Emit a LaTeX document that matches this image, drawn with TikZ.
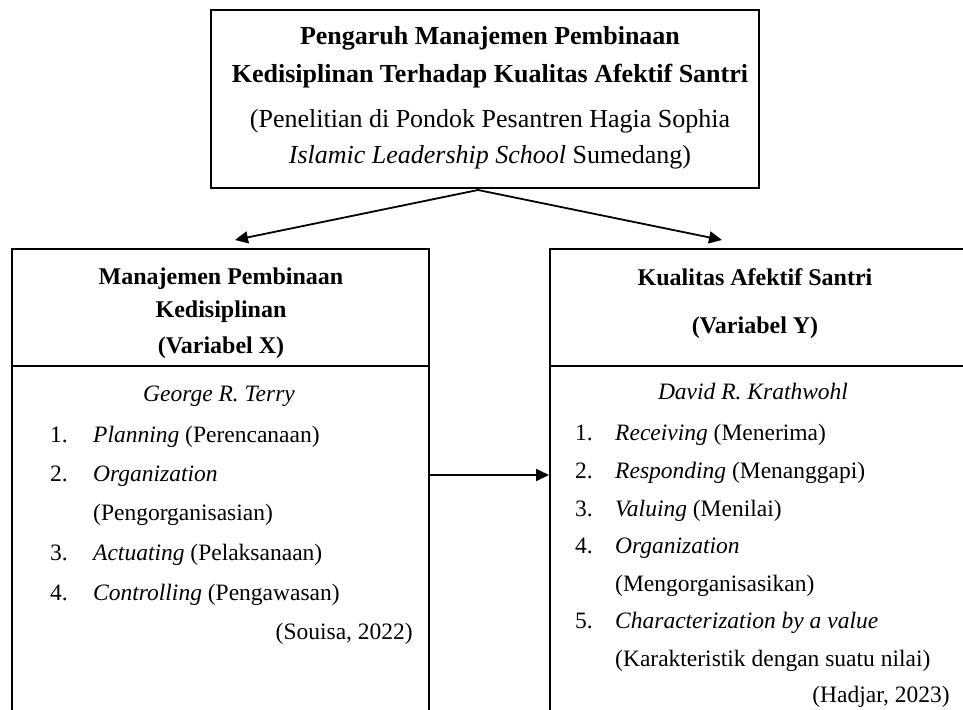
\documentclass[tikz,border=0pt]{standalone}
\usepackage{fontspec}
\setmainfont{Liberation Serif}
\usetikzlibrary{arrows.meta}
\begin{document}
\begin{tikzpicture}[x=1pt, y=-1pt,
  box/.style={draw, line width=2pt, inner sep=0pt},
  txt/.style={anchor=base, inner sep=0pt, font=\fontsize{23.5}{28}\selectfont},
  lst/.style={txt, anchor=base west},
  ttl/.style={txt, font=\fontsize{26}{30}\selectfont\bfseries},
  sub/.style={txt, font=\fontsize{26}{30}\selectfont},
  hd/.style={txt, font=\fontsize{24}{28}\selectfont\bfseries},
  arr/.style={line width=1.8pt, -{Triangle[length=13pt,width=12pt]}}]
\useasboundingbox (0,0) rectangle (963,709);
\clip (0,0) rectangle (963,709);
\node[box, line width=2.5pt, minimum width=548pt, minimum height=178pt] (T) at (485,99) {};
\node[box, anchor=north west, minimum width=417pt, minimum height=480pt] (X) at (11,248) {};
\node[box, anchor=north west, minimum width=417pt, minimum height=480pt] (Y) at (549,248) {};
\draw[line width=2pt] (X.west |- 0,366) -- (X.east |- 0,366);
\draw[line width=2pt] (Y.west |- 0,366) -- (Y.east |- 0,366);
\coordinate (T_s) at (478,190);
\coordinate (X_t) at (235,240);
\coordinate (Y_t) at (722,240);
\draw[arr] (T_s) -- (X_t);
\draw[arr] (T_s) -- (Y_t);
\draw[arr] (X.east |- 0,475) -- (Y.west |- 0,475);
\node[ttl] (T_1) at (490,45) {Pengaruh Manajemen Pembinaan};
\node[ttl] (T_2) at (490,82) {Kedisiplinan Terhadap Kualitas Afektif Santri};
\node[sub] (T_3) at (490,127) {(Penelitian di Pondok Pesantren Hagia Sophia};
\node[sub] (T_4) at (490,163) {\textit{Islamic Leadership School} Sumedang)};
\node[hd] (X_1) at (221,284) {Manajemen Pembinaan};
\node[hd] (X_2) at (221,317) {Kedisiplinan};
\node[hd] (X_3) at (221,353) {(Variabel X)};
\node[hd] (Y_1) at (755,285) {Kualitas Afektif Santri};
\node[hd] (Y_2) at (755,333) {(Variabel Y)};
\node[txt] (X_0) at (219,401) {\textit{George R. Terry}};
\node[lst] (X_n1) at (50,442) {1.};
\node[lst] (X_p1) at (93,442) {\textit{Planning} (Perencanaan)};
\node[lst] (X_n2) at (50,481) {2.};
\node[lst] (X_p2) at (93,481) {\textit{Organization}};
\node[lst] (X_q2) at (93,520) {(Pengorganisasian)};
\node[lst] (X_n3) at (50,560) {3.};
\node[lst] (X_p3) at (93,560) {\textit{Actuating} (Pelaksanaan)};
\node[lst] (X_n4) at (50,600) {4.};
\node[lst] (X_p4) at (93,600) {\textit{Controlling} (Pengawasan)};
\node[txt, anchor=base east] (X_r) at (413,639) {(Souisa, 2022)};
\node[txt] (Y_0) at (753,399) {\textit{David R. Krathwohl}};
\node[lst] (Y_n1) at (575,440) {1.};
\node[lst] (Y_p1) at (615,440) {\textit{Receiving} (Menerima)};
\node[lst] (Y_n2) at (575,478) {2.};
\node[lst] (Y_p2) at (615,478) {\textit{Responding} (Menanggapi)};
\node[lst] (Y_n3) at (575,516) {3.};
\node[lst] (Y_p3) at (615,516) {\textit{Valuing} (Menilai)};
\node[lst] (Y_n4) at (575,553) {4.};
\node[lst] (Y_p4) at (615,553) {\textit{Organization}};
\node[lst] (Y_q4) at (615,591) {(Mengorganisasikan)};
\node[lst] (Y_n5) at (575,628) {5.};
\node[lst] (Y_p5) at (615,628) {\textit{Characterization by a value}};
\node[lst] (Y_q5) at (615,666) {(Karakteristik dengan suatu nilai)};
\node[txt, anchor=base east] (Y_r) at (950,702) {(Hadjar, 2023)};
\end{tikzpicture}
\end{document}
